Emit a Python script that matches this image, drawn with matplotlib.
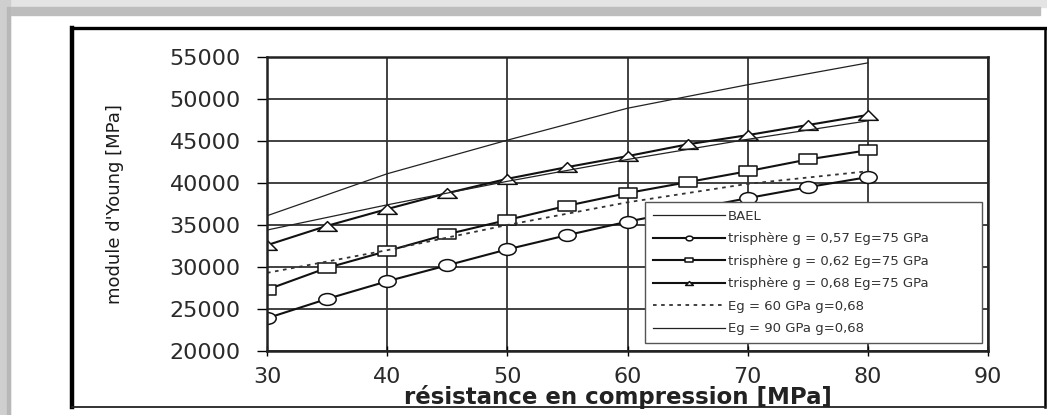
import matplotlib.pyplot as plt
from matplotlib.path import Path
from matplotlib.patches import Rectangle
from matplotlib.lines import Line2D

plt.rcParams['font.family'] = ['DejaVu Sans']

# data
fc_markers = [30, 35, 40, 45, 50, 55, 60, 65, 70, 75, 80]
fc_curves = [30, 40, 50, 60, 70, 80]
e_g057 = [23900, 26200, 28300, 30200, 32100, 33800, 35400, 36800, 38200, 39500, 40700]
e_g062 = [27300, 29900, 31900, 33900, 35600, 37300, 38800, 40100, 41400, 42800, 43900]
e_g068 = [32600, 34900, 36900, 38800, 40500, 41900, 43200, 44600, 45700, 46900, 48100]
e_bael = [36100, 41100, 45100, 48900, 51700, 54300]
e_eg60 = [29300, 32000, 35000, 37700, 39900, 41400]
e_eg90 = [34400, 37400, 40200, 42800, 45200, 47400]

labels = ['BAEL',
          'trisphère g = 0,57 Eg=75 GPa',
          'trisphère g = 0,62 Eg=75 GPa',
          'trisphère g = 0,68 Eg=75 GPa',
          'Eg = 60 GPa g=0,68',
          'Eg = 90 GPa g=0,68']
x_ticks = [30, 40, 50, 60, 70, 80, 90]
y_ticks = [20000, 25000, 30000, 35000, 40000, 45000, 50000, 55000]

W, H = 1047, 415


def fx(px):
    return px / W


def fy(py):
    return 1 - py / H


# the scan is stretched sideways, so the markers are too
circ = Path.unit_circle()
ellipse = Path(circ.vertices * [1.0, 0.68], circ.codes)
square = Path([(-1, -0.56), (1, -0.56), (1, 0.56), (-1, 0.56), (-1, -0.56)], closed=True)
triangle = Path([(-1, -0.5), (1, -0.5), (0, 0.5), (-1, -0.5)], closed=True)

fig = plt.figure(figsize=(W / 100, H / 100), dpi=100)
fig.patch.set_facecolor('white')

# grey shadow around the scan
fig.add_artist(Rectangle((0, fy(7)), 1, 7 / H, transform=fig.transFigure,
                         color='#e4e4e4', zorder=0))
fig.add_artist(Rectangle((fx(10), fy(15)), fx(1030), 8 / H, transform=fig.transFigure,
                         color='#bdbdbd', zorder=0))
fig.add_artist(Rectangle((0, 0), fx(10), 1, transform=fig.transFigure,
                         color='#cfcfcf', zorder=0))
fig.add_artist(Rectangle((fx(7), 0), fx(3), fy(7), transform=fig.transFigure,
                         color='#b8b8b8', zorder=0))

# black frame of the scanned figure
fig.add_artist(Line2D([fx(72), fx(1045)], [fy(28), fy(28)], transform=fig.transFigure,
                      color='black', lw=2.4))
fig.add_artist(Line2D([fx(72), fx(72)], [fy(28), fy(407)], transform=fig.transFigure,
                      color='black', lw=3.2))
fig.add_artist(Line2D([fx(1045), fx(1045)], [fy(28), fy(407)], transform=fig.transFigure,
                      color='black', lw=1.8))
fig.add_artist(Line2D([fx(72), fx(1045)], [fy(407), fy(407)], transform=fig.transFigure,
                      color='#222222', lw=1.3))

ax = fig.add_axes([fx(267), fy(351), fx(988 - 267), (351 - 57) / H])

ax.plot(fc_curves, e_bael, color='#222222', lw=0.9, label=labels[0])
ax.plot(fc_markers, e_g057, color='#111111', lw=1.5, marker=ellipse, ms=12.5,
        mfc='white', mec='#111111', mew=1.1, label=labels[1])
ax.plot(fc_markers, e_g062, color='#111111', lw=1.5, marker=square, ms=13,
        mfc='white', mec='#111111', mew=1.1, label=labels[2])
ax.plot(fc_markers, e_g068, color='#111111', lw=1.5, marker=triangle, ms=14,
        mfc='white', mec='#111111', mew=1.1, label=labels[3])
ax.plot(fc_curves, e_eg60, color='#333333', lw=1.3, ls=(0, (2, 2.5)), label=labels[4])
ax.plot(fc_curves, e_eg90, color='#222222', lw=0.9, label=labels[5])

ax.set_xlim(30, 90)
ax.set_ylim(20000, 55000)
ax.set_xticks(x_ticks)
ax.set_yticks(y_ticks)
ax.grid(True, color='#333333', lw=1.3)
ax.set_axisbelow(True)
for s in ax.spines.values():
    s.set_linewidth(1.8)
    s.set_color('#222222')
ax.tick_params(axis='y', direction='out', length=7, width=1, pad=12,
               labelsize=16, labelcolor='#2a2a2a')
ax.tick_params(axis='x', direction='inout', length=7, width=1, pad=8,
               labelsize=16, labelcolor='#2a2a2a')

fig.text(fx(115), fy(204), "module d'Young [MPa]", rotation=90, ha='center',
         va='center', fontsize=13, color='#1a1a1a')
fig.text(fx(618), fy(397), 'résistance en compression [MPa]', ha='center',
         va='center', fontsize=16.5, fontweight='bold', color='#222222')

leg = ax.legend(loc='lower left', bbox_to_anchor=(0.524, 0.027, 0.468, 0.459),
                mode='expand', borderaxespad=0, fontsize=9.5, markerscale=0.4,
                handlelength=5.5, handletextpad=0.2, labelspacing=0.72,
                borderpad=0.6, fancybox=False, framealpha=1)
leg.get_frame().set_edgecolor('#555555')
leg.get_frame().set_linewidth(1.0)
for t in leg.get_texts():
    t.set_color('#333333')

fig.savefig('out.png', dpi=100)
